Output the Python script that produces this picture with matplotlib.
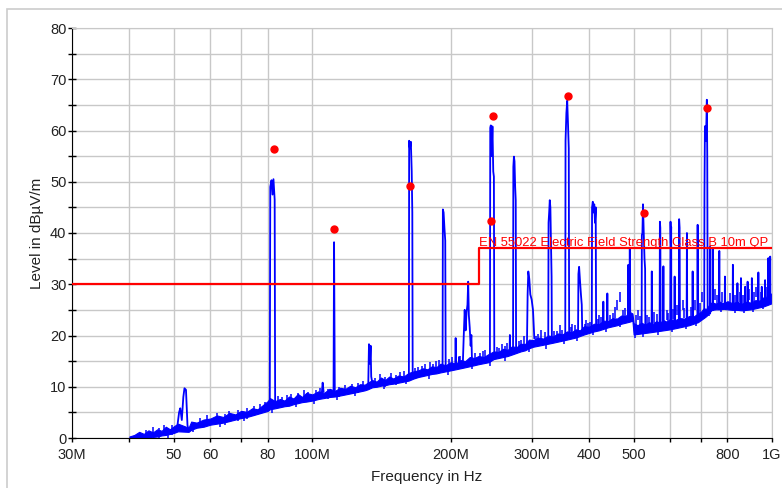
import matplotlib
matplotlib.use('Agg')
import matplotlib.pyplot as plt
from matplotlib.ticker import FixedLocator, FixedFormatter, MultipleLocator, NullLocator
from matplotlib.patches import Rectangle

plt.rcParams['font.family'] = ['Liberation Sans', 'DejaVu Sans']

# noise floor band (MHz, dBuV/m)
floor_f = [40, 41, 42, 43, 44, 45, 46, 47, 48, 49, 50, 51, 53.8, 54.5, 56, 58, 60, 62, 64, 66,
           68, 70, 72, 74, 76, 78, 80, 80.8, 83, 85, 87, 89, 91, 93, 95, 97, 100, 103, 106, 109,
           112, 115, 118, 121, 124, 127, 130, 132, 135, 138, 141, 144, 147, 150, 154, 158, 162, 166, 170, 174,
           178, 182, 186, 190, 195, 200, 205, 210, 215, 220, 225, 230, 236, 242, 248, 254, 260, 266, 272, 278,
           284, 290, 296, 302, 310, 318, 326, 334, 342, 350, 358, 366, 374, 382, 390, 400, 410, 420, 430, 440,
           450, 460, 470, 480, 490, 497, 500, 510, 520, 530, 540, 550, 560, 570, 580, 590, 600, 615, 630, 645,
           660, 675, 690, 700, 710, 720, 730, 740, 755, 770, 785, 800, 820, 840, 860, 880, 900, 920, 940, 960,
           980, 1000]
floor_lo = [-1.0, -0.6, -0.3, -0.2, 0.0, 0.2, 0.3, 0.5, 0.6, 0.8, 1.0, 1.3, 1.2, 1.6, 2.0, 2.2, 2.6, 2.8, 3.0, 3.3,
            3.6, 3.9, 4.1, 4.4, 4.7, 5.0, 5.3, 5.6, 5.8, 6.0, 6.2, 6.3, 6.6, 6.8, 7.0, 7.1, 7.3, 7.6, 7.8, 8.0,
            8.1, 8.3, 8.5, 8.7, 8.9, 9.1, 9.3, 9.5, 9.9, 10.0, 10.2, 10.3, 10.5, 10.6, 10.8, 11.0, 11.2, 11.6, 11.9, 12.1,
            12.3, 12.5, 12.6, 12.8, 13.0, 13.2, 13.4, 13.6, 13.8, 14.0, 14.2, 14.4, 14.6, 14.8, 15.4, 15.6, 15.8, 16.0, 16.3, 16.6,
            16.9, 17.1, 17.5, 17.8, 18.0, 18.2, 18.4, 18.6, 18.8, 19.0, 19.2, 19.4, 19.6, 19.9, 20.2, 20.5, 20.8, 21.0, 21.3, 21.6,
            21.8, 22.0, 22.3, 22.5, 22.7, 22.9, 20.2, 20.3, 20.4, 20.5, 20.6, 20.7, 20.8, 20.9, 21.0, 21.1, 21.2, 21.4, 21.6, 21.8,
            22.0, 22.3, 22.6, 23.0, 23.4, 23.8, 24.5, 25.0, 25.1, 25.1, 25.2, 25.1, 25.0, 25.0, 24.9, 25.0, 25.1, 25.3, 25.5, 25.7,
            26.0, 26.3]
floor_hi = [0.3, 0.6, 1.2, 0.8, 1.5, 1.1, 1.7, 1.4, 2.2, 1.7, 2.3, 2.8, 2.0, 3.2, 3.0, 3.6, 3.8, 4.4, 4.1, 4.9,
            4.6, 5.3, 5.1, 5.8, 5.6, 6.4, 7.2, 7.8, 7.2, 7.6, 7.3, 8.1, 7.7, 8.6, 8.0, 8.8, 8.5, 9.1, 8.8, 9.6,
            9.2, 9.8, 9.6, 10.2, 9.9, 10.5, 10.4, 10.8, 11.3, 11.0, 11.8, 11.3, 12.0, 11.6, 12.2, 12.0, 12.7, 13.0, 13.2, 13.6,
            13.4, 14.0, 13.8, 14.5, 14.2, 14.8, 14.5, 15.2, 15.0, 15.8, 15.6, 16.0, 15.8, 16.4, 16.9, 16.8, 17.4, 17.2, 17.9, 17.7,
            18.4, 18.3, 19.2, 19.1, 19.6, 19.4, 20.0, 19.8, 20.4, 20.2, 20.8, 20.6, 21.2, 21.0, 21.8, 21.7, 22.3, 22.2, 22.9, 22.8,
            23.4, 23.3, 23.9, 23.8, 24.6, 24.3, 22.4, 22.0, 22.5, 22.1, 22.6, 22.3, 22.8, 22.5, 23.0, 22.7, 23.2, 23.0, 23.4, 23.3,
            23.8, 23.7, 24.3, 24.6, 25.3, 25.2, 26.0, 26.5, 26.2, 26.6, 26.3, 26.7, 26.3, 26.6, 26.2, 26.6, 26.4, 26.9, 26.8, 27.5,
            27.6, 28.3]

# emission peaks traced from the sweep (MHz, dBuV/m)
spike_f = [
    [50.8, 51.3, 51.6, 52.0, 52.4, 52.7, 53.1, 53.5, 53.8],
    [80.8, 81.0, 81.5, 81.9, 82.3, 82.8, 83.0],
    [104.8, 105.3, 105.8],
    [111.2, 111.5, 111.9],
    [132.3, 132.8, 133.4, 133.9, 134.3, 135.0],
    [162.2, 162.4, 163.0, 163.8, 164.5, 165.0, 165.3],
    [192.0, 192.3, 193.0, 193.8, 194.6, 195.0],
    [204.6, 205.0, 205.4],
    [208.2, 208.5, 208.8],
    [212.5, 213.5, 214.5, 215.5, 216.5, 217.5, 218.3, 219.0, 220.0, 221.0, 221.8, 222.5],
    [243.4, 243.8, 244.5, 245.5, 246.5, 247.5, 248.3, 248.8],
    [268.5, 269.0, 269.5],
    [273.3, 273.7, 274.5, 275.3, 276.2, 277.0, 277.5],
    [293.0, 294.0, 295.0, 296.5, 298.0, 300.0, 302.0, 304.0],
    [326.0, 326.5, 327.5, 328.5, 329.5, 330.5, 331.5, 332.0],
    [355.0, 355.5, 357.0, 358.5, 360.0, 361.3, 362.0],
    [378.5, 379.2, 380.5, 382.0, 384.0, 385.6, 386.5],
    [405.5, 406.0, 407.5, 409.0, 410.5, 412.0, 413.5, 414.3],
    [429.0, 429.6, 430.2],
    [437.5, 438.3, 439.0],
    [486.0, 487.0, 488.0],
    [489.5, 490.5, 491.5],
    [520.5, 521.0, 522.5, 524.0, 526.0, 528.0, 529.6, 530.2],
    [547.0, 547.6, 548.2],
    [569.5, 570.3, 571.5, 572.5],
    [579.8, 580.4, 581.0],
    [600.5, 601.5, 602.5, 603.5, 604.0],
    [613.0, 614.0, 615.0],
    [627.0, 628.0, 629.5, 630.5],
    [652.0, 653.0, 654.0],
    [671.0, 672.0, 673.0],
    [688.0, 689.0, 690.0],
    [712.0, 713.0, 714.5, 716.0, 718.0, 720.0, 721.5, 723.0, 724.5],
    [732.3, 733.0, 733.7],
    [742.3, 743.0, 743.7],
    [767.3, 768.0, 768.7],
    [789.0, 790.0, 791.0],
    [821.0, 822.0, 823.0],
    [840.3, 841.0, 841.7],
    [855.0, 856.0, 857.0],
    [873.2, 874.0, 874.8],
    [884.0, 885.0, 886.0],
    [903.0, 904.0, 905.0],
    [933.0, 934.0, 935.0],
    [949.2, 950.0, 950.8],
    [965.0, 966.0, 967.0],
    [981.0, 982.0, 983.0],
    [990.0, 991.0, 992.0],
]
spike_lvl = [
    [2.0, 5.0, 5.8, 3.5, 8.0, 9.7, 9.4, 2.5, 1.5],
    [7.5, 49.0, 50.3, 47.5, 50.5, 46.5, 6.5],
    [8.5, 10.8, 9.0],
    [9.0, 38.2, 9.0],
    [10.0, 18.3, 14.5, 18.0, 12.0, 10.8],
    [12.0, 58.0, 56.5, 57.8, 52.0, 44.0, 12.5],
    [13.5, 44.6, 44.0, 41.0, 38.5, 14.0],
    [14.0, 19.5, 14.2],
    [14.2, 15.8, 14.3],
    [14.5, 20.0, 25.0, 21.0, 24.5, 26.0, 30.5, 24.0, 21.5, 18.0, 20.1, 15.0],
    [15.0, 60.5, 61.0, 55.0, 60.8, 52.0, 51.0, 16.5],
    [16.5, 20.1, 16.8],
    [17.0, 52.9, 54.9, 54.0, 49.0, 46.4, 17.5],
    [18.0, 28.0, 32.5, 31.0, 28.0, 27.0, 25.0, 19.5],
    [19.0, 42.0, 44.0, 46.4, 45.0, 38.0, 31.5, 19.5],
    [20.0, 58.0, 63.4, 65.8, 61.0, 56.5, 20.5],
    [21.0, 32.0, 33.4, 31.0, 28.0, 26.0, 21.0],
    [21.5, 45.0, 46.1, 44.0, 45.6, 42.0, 45.0, 22.0],
    [21.5, 26.6, 21.6],
    [22.3, 28.2, 22.5],
    [24.0, 33.8, 24.2],
    [24.3, 37.0, 24.5],
    [21.5, 39.6, 40.0, 45.6, 40.0, 35.0, 33.0, 21.5],
    [21.0, 32.5, 21.0],
    [21.2, 42.2, 41.0, 21.3],
    [21.3, 33.5, 21.3],
    [21.5, 42.2, 38.0, 41.2, 21.7],
    [21.6, 31.5, 21.7],
    [22.0, 42.7, 41.0, 22.0],
    [22.2, 40.0, 22.3],
    [22.5, 32.5, 22.6],
    [22.8, 41.6, 23.0],
    [23.5, 47.8, 60.1, 60.9, 58.0, 62.0, 66.0, 55.0, 24.0],
    [24.3, 37.3, 24.5],
    [25.0, 37.0, 25.0],
    [25.2, 36.5, 25.2],
    [25.5, 31.5, 25.5],
    [25.5, 33.8, 25.5],
    [25.4, 30.2, 25.4],
    [25.3, 31.2, 25.3],
    [25.3, 29.5, 25.3],
    [25.4, 30.5, 25.4],
    [25.4, 31.2, 25.5],
    [25.8, 32.3, 25.9],
    [26.0, 29.5, 26.0],
    [26.3, 30.8, 26.4],
    [26.8, 35.1, 27.0],
    [27.0, 35.4, 27.2],
]

# small upward ripples on the floor
ripple_f = [43.5, 45, 46.5, 47.5, 49.5, 57, 59, 62, 64.5, 66, 69, 72, 74.5, 77, 79, 84, 86, 88, 90, 93,
            96, 98, 102, 104, 108, 114, 118, 122, 126, 129, 137, 140, 144, 148, 152, 155, 158, 167, 170, 173,
            176, 180, 183, 186, 189, 198, 201, 210, 226, 232, 235, 238, 252, 255, 258, 262, 265, 282, 285, 288,
            306, 310, 315, 320, 336, 340, 345, 350, 365, 368, 372, 391, 393, 398, 402, 418, 420, 425, 445, 450,
            455, 460, 468, 475, 480, 505, 512, 517, 535, 540, 555, 562, 590, 595, 610, 620, 640, 645, 665, 680,
            698, 705, 750, 760, 780, 810, 830, 850, 865, 890, 915, 925, 945, 970]
ripple_top = [1.6, 2.2, 2.0, 2.5, 2.6, 4.0, 4.4, 4.8, 4.6, 5.2, 5.4, 5.8, 6.2, 6.6, 7.0, 8.2, 8.0, 8.4, 8.6, 8.8,
              9.3, 9.0, 9.4, 9.8, 9.6, 10.0, 10.3, 10.6, 10.8, 11.2, 11.8, 12.4, 12.0, 12.6, 12.3, 12.9, 13.0, 13.6, 13.8, 14.0,
              14.5, 14.8, 14.4, 15.0, 15.2, 15.4, 15.8, 16.0, 16.6, 16.6, 17.0, 17.2, 17.8, 17.5, 18.3, 18.0, 18.6, 19.0, 19.2, 20.0,
              20.0, 20.3, 21.0, 20.6, 20.8, 20.8, 22.0, 21.0, 21.6, 22.3, 22.0, 22.2, 23.0, 22.5, 22.6, 23.2, 24.0, 23.6, 24.0, 24.4,
              25.5, 27.0, 28.5, 25.0, 25.4, 24.0, 25.0, 23.8, 24.0, 23.6, 24.5, 24.2, 25.0, 24.4, 25.2, 26.0, 27.0, 25.4, 25.5, 27.0,
              26.4, 28.5, 29.0, 28.0, 28.5, 28.2, 28.0, 28.5, 28.0, 29.0, 28.5, 29.5, 28.5, 29.5]

# small downward dips below the floor
dip_f = [44.5, 48.5, 55, 63, 71, 81.5, 92, 101, 113, 124, 143, 160, 179, 197, 223, 244, 263, 296, 322, 352,
         376, 407, 436, 466, 503, 525, 565, 605, 650, 685, 730, 775, 830, 870, 910, 955]
dip_bot = [-0.5, 0.0, 1.2, 2.2, 3.3, 4.9, 6.0, 6.7, 7.4, 8.2, 9.6, 10.5, 11.6, 12.3, 13.4, 14.1, 15.1, 16.8, 17.4, 18.3,
           18.9, 20.1, 20.7, 21.6, 19.6, 19.8, 20.1, 20.6, 21.2, 21.9, 23.9, 24.5, 24.4, 24.3, 24.6, 25.1]

# limit line EN 55022 class B 10 m QP
limit_f = [30, 230, 230, 1000]
limit_lvl = [30, 30, 37, 37]

# final measurement points
final_f = [82.6, 111.7, 163.4, 247.6, 245.1, 360.5, 526, 722]
final_lvl = [56.4, 40.7, 49.2, 62.9, 42.4, 66.7, 44.0, 64.4]

xticks = [30, 40, 50, 60, 70, 80, 100, 200, 300, 400, 500, 600, 700, 800, 1000]
xlabels = ['30M', '', '50', '60', '', '80', '100M', '200M', '300M', '400', '500', '', '', '800', '1G']

fig = plt.figure(figsize=(7.82, 4.88), dpi=100)
ax = fig.add_axes([72 / 782, 50 / 488, 700 / 782, 410 / 488])

ax.fill_between(floor_f, floor_lo, floor_hi, color='blue', lw=0.8, edgecolor='blue')
ax.vlines(ripple_f, [t - 2.0 for t in ripple_top], ripple_top, color='blue', lw=1.1)
ax.vlines(dip_f, dip_bot, [b + 1.5 for b in dip_bot], color='blue', lw=1.1)
for fs, ls in zip(spike_f, spike_lvl):
    ax.plot(fs, ls, color='blue', lw=1.3)

ax.plot(limit_f, limit_lvl, color='red', lw=1.6, zorder=4)
ax.text(230, 37.4, 'EN 55022 Electric Field Strength Class B 10m QP', color='red',
        fontsize=9.4, ha='left', va='baseline', zorder=5)
ax.plot(final_f, final_lvl, 'o', color='red', ms=5, mec='red', zorder=6)

ax.set_xscale('log')
ax.set_xlim(30, 1000)
ax.set_ylim(0, 80)
ax.xaxis.set_major_locator(FixedLocator(xticks))
ax.xaxis.set_major_formatter(FixedFormatter(xlabels))
ax.xaxis.set_minor_locator(NullLocator())
ax.yaxis.set_major_locator(MultipleLocator(10))
ax.yaxis.set_minor_locator(MultipleLocator(5))

ax.grid(which='both', color='#c8c8c8', lw=1)
ax.set_axisbelow(True)
for s in ['top', 'right']:
    ax.spines[s].set_color('#c8c8c8')
for s in ['left', 'bottom']:
    ax.spines[s].set_color('black')

ax.tick_params(axis='x', which='both', direction='out', length=3, width=1, pad=4.5,
               labelsize=10.5, labelcolor='#222222')
ax.tick_params(axis='y', which='both', direction='inout', length=6, width=1, pad=1,
               labelsize=10.5, labelcolor='#222222')

ax.set_xlabel('Frequency in Hz', fontsize=11, color='#222222')
ax.set_ylabel('Level in dBµV/m', fontsize=11, color='#222222')
ax.xaxis.set_label_coords(0.507, -0.078)
ax.yaxis.set_label_coords(-0.04, 0.5)

fig.patches.append(Rectangle((7 / 782, -0.05), 1.1, 1 - 9 / 488 + 0.05, transform=fig.transFigure,
                             fill=False, ec='#cccccc', lw=1.2))

fig.savefig('out.png', dpi=100)
